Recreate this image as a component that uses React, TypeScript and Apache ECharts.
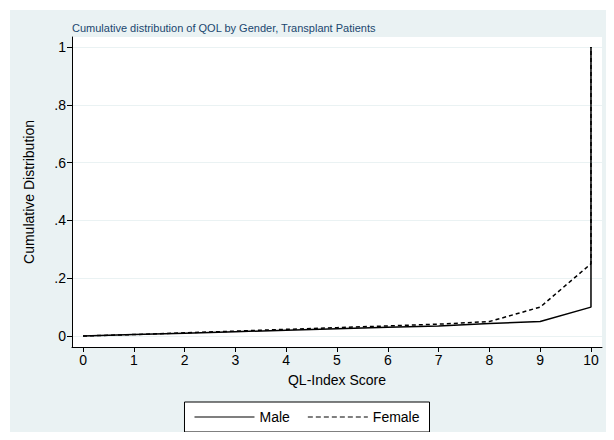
import { useEffect, useRef } from "react";
import * as echarts from "echarts";

const xValues = [0, 1, 2, 3, 4, 5, 6, 7, 8, 9, 10, 10];
const maleCdf = [0, 0.005, 0.01, 0.015, 0.02, 0.025, 0.03, 0.035, 0.043, 0.05, 0.1, 1];
const femaleCdf = [0, 0.005, 0.011, 0.017, 0.023, 0.029, 0.035, 0.041, 0.05, 0.1, 0.25, 1];
const xTicks = [0, 1, 2, 3, 4, 5, 6, 7, 8, 9, 10];
const yTicks = [0, 0.2, 0.4, 0.6, 0.8, 1];

const FONT = "Liberation Sans, Arial, sans-serif";

function fmtY(v: number): string {
  if (v === 0) return "0";
  if (v === 1) return "1";
  return String(v).replace(/^0/, "");
}

export default function App() {
  const ref = useRef<HTMLDivElement>(null);

  useEffect(() => {
    if (!ref.current) return;
    const chart = echarts.init(ref.current, undefined, { renderer: "svg" });
    const pair = (ys: number[]) => ys.map((y, i) => [xValues[i], y]);
    chart.setOption({
      animation: false,
      backgroundColor: "#ffffff",
      textStyle: { fontFamily: FONT },
      graphic: [
        { type: "rect", shape: { x: 10, y: 10, width: 604, height: 430 }, style: { fill: "#eaf2f3" }, z: -10 },
        { type: "rect", shape: { x: 72, y: 37, width: 530, height: 310 }, style: { fill: "#ffffff" }, z: -9 },
        {
          type: "text", left: 72, top: 22,
          style: { text: "Cumulative distribution of QOL by Gender, Transplant Patients", fill: "#1a476f", font: `11px ${FONT}` },
        },
      ],
      grid: { left: 72, right: 12, top: 37, bottom: 93 },
      xAxis: {
        type: "value", min: -0.217, max: 10.217,
        name: "QL-Index Score", nameLocation: "middle", nameGap: 26,
        nameTextStyle: { fontSize: 14, color: "#000", fontFamily: FONT },
        axisLine: { show: true, onZero: false, lineStyle: { color: "#000" } },
        axisTick: { show: true, length: 5, lineStyle: { color: "#000" }, customValues: xTicks },
        axisLabel: { fontSize: 14, color: "#000", customValues: xTicks, margin: 6 },
        splitLine: { show: false },
      },
      yAxis: {
        type: "value", min: -0.038, max: 1.0346,
        name: "Cumulative Distribution", nameLocation: "middle", nameGap: 36,
        nameTextStyle: { fontSize: 14, color: "#000", fontFamily: FONT },
        axisLine: { show: true, onZero: false, lineStyle: { color: "#000" } },
        axisTick: { show: true, length: 5, lineStyle: { color: "#000" }, customValues: yTicks },
        axisLabel: { fontSize: 14, color: "#000", formatter: fmtY, customValues: yTicks, margin: 6 },
        splitLine: { show: false },
      },
      legend: {
        bottom: 8, left: "center",
        backgroundColor: "#fff", borderColor: "#000", borderWidth: 1,
        padding: [8, 10], itemGap: 18, itemWidth: 60, itemHeight: 3,
        textStyle: { fontSize: 14, color: "#000", fontFamily: FONT },
        data: [
          { name: "Male", icon: "path://M0,0H60V1H0Z", itemStyle: { color: "#000", borderWidth: 0 } },
          { name: "Female", icon: "path://M0,0H5V1H0ZM8,0H13V1H8ZM16,0H21V1H16ZM24,0H29V1H24ZM32,0H37V1H32ZM40,0H45V1H40ZM48,0H53V1H48ZM56,0H60V1H56Z", itemStyle: { color: "#000", borderWidth: 0 } },
        ],
      },
      series: [
        {
          name: "Male", type: "line", data: pair(maleCdf), showSymbol: false, symbol: "none",
          lineStyle: { color: "#000", width: 1.5 }, itemStyle: { color: "#000" },
          markLine: {
            silent: true, symbol: "none", label: { show: false }, z: 0,
            lineStyle: { color: "#eaf2f3", type: "solid", width: 1 },
            data: yTicks.map((v) => ({ yAxis: v })),
          },
        },
        {
          name: "Female", type: "line", data: pair(femaleCdf), showSymbol: false, symbol: "none",
          lineStyle: { color: "#000", width: 1.5, type: [4, 3] }, itemStyle: { color: "#000" },
        },
      ],
    });
    return () => chart.dispose();
  }, []);

  return <div ref={ref} style={{ width: 614, height: 440, margin: -8 }} />;
}
